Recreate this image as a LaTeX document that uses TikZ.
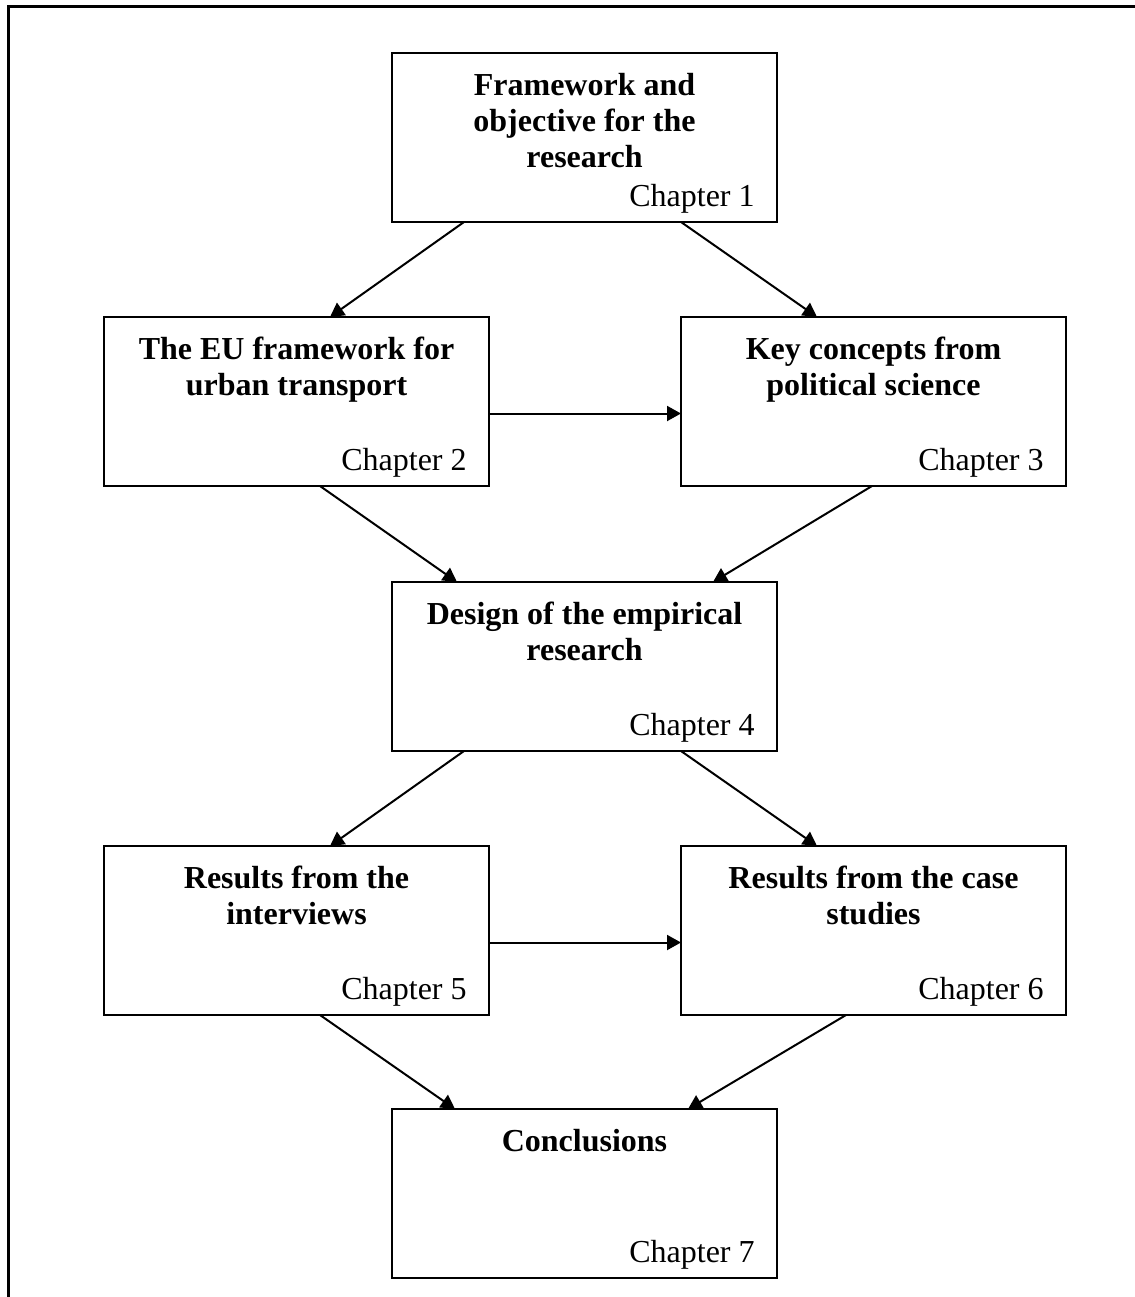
\documentclass[tikz,border=0pt]{standalone}
\usepackage{fontspec}
\setmainfont{Liberation Serif}
\usetikzlibrary{arrows.meta}

\begin{document}
\begin{tikzpicture}[x=0.5pt, y=-0.5pt,
    box/.style={draw, line width=1pt, inner sep=0pt, outer sep=0pt,
      anchor=north west, minimum width=192.5pt, minimum height=84.5pt},
    heading/.style={anchor=north, align=center, inner sep=0pt,
      font=\fontsize{16}{18}\selectfont\bfseries},
    chap/.style={anchor=base east, inner sep=0pt,
      font=\fontsize{16}{18}\selectfont},
    arr/.style={-{Triangle[length=7pt,width=7.5pt]}, line width=1pt}]
    \useasboundingbox (0,0) rectangle (1135,1297);
    \draw[line width=1.5pt] (8,1297) -- (8,6) -- (1135,6);

    \node[box] (ch1) at (392,53)   {};
    \node[box] (ch2) at (104,317)  {};
    \node[box] (ch3) at (681,317)  {};
    \node[box] (ch4) at (392,582)  {};
    \node[box] (ch5) at (104,846)  {};
    \node[box] (ch6) at (681,846)  {};
    \node[box] (ch7) at (392,1109) {};

    \node[heading] (t1) at ([yshift=-10pt]ch1.north) {Framework and\\objective for the\\research};
    \node[heading] (t2) at ([yshift=-10pt]ch2.north) {The EU framework for\\urban transport};
    \node[heading] (t3) at ([yshift=-10pt]ch3.north) {Key concepts from\\political science};
    \node[heading] (t4) at ([yshift=-10pt]ch4.north) {Design of the empirical\\research};
    \node[heading] (t5) at ([yshift=-10pt]ch5.north) {Results from the\\interviews};
    \node[heading] (t6) at ([yshift=-10pt]ch6.north) {Results from the case\\studies};
    \node[heading] (t7) at ([yshift=-10pt]ch7.north) {Conclusions};

    \node[chap] (c1) at ([xshift=-11pt,yshift=8pt]ch1.south east) {Chapter 1};
    \node[chap] (c2) at ([xshift=-11pt,yshift=8pt]ch2.south east) {Chapter 2};
    \node[chap] (c3) at ([xshift=-11pt,yshift=8pt]ch3.south east) {Chapter 3};
    \node[chap] (c4) at ([xshift=-11pt,yshift=8pt]ch4.south east) {Chapter 4};
    \node[chap] (c5) at ([xshift=-11pt,yshift=8pt]ch5.south east) {Chapter 5};
    \node[chap] (c6) at ([xshift=-11pt,yshift=8pt]ch6.south east) {Chapter 6};
    \node[chap] (c7) at ([xshift=-11pt,yshift=8pt]ch7.south east) {Chapter 7};

    \draw[arr] ([xshift=36pt]ch1.south west) -- ([xshift=113pt]ch2.north west);
    \draw[arr] ([xshift=-48pt]ch1.south east) -- ([xshift=68pt]ch3.north west);
    \draw[arr] ([yshift=-6pt]ch2.east) -- ([yshift=-6pt]ch3.west);
    \draw[arr] ([xshift=108pt]ch2.south west) -- ([xshift=32.5pt]ch4.north west);
    \draw[arr] ([xshift=95.5pt]ch3.south west) -- ([xshift=160.5pt]ch4.north west);
    \draw[arr] ([xshift=36pt]ch4.south west) -- ([xshift=113pt]ch5.north west);
    \draw[arr] ([xshift=-48pt]ch4.south east) -- ([xshift=68pt]ch6.north west);
    \draw[arr] ([yshift=-6pt]ch5.east) -- ([yshift=-6pt]ch6.west);
    \draw[arr] ([xshift=108pt]ch5.south west) -- ([xshift=31.5pt]ch7.north west);
    \draw[arr] ([xshift=82.5pt]ch6.south west) -- ([xshift=148pt]ch7.north west);
\end{tikzpicture}
\end{document}
